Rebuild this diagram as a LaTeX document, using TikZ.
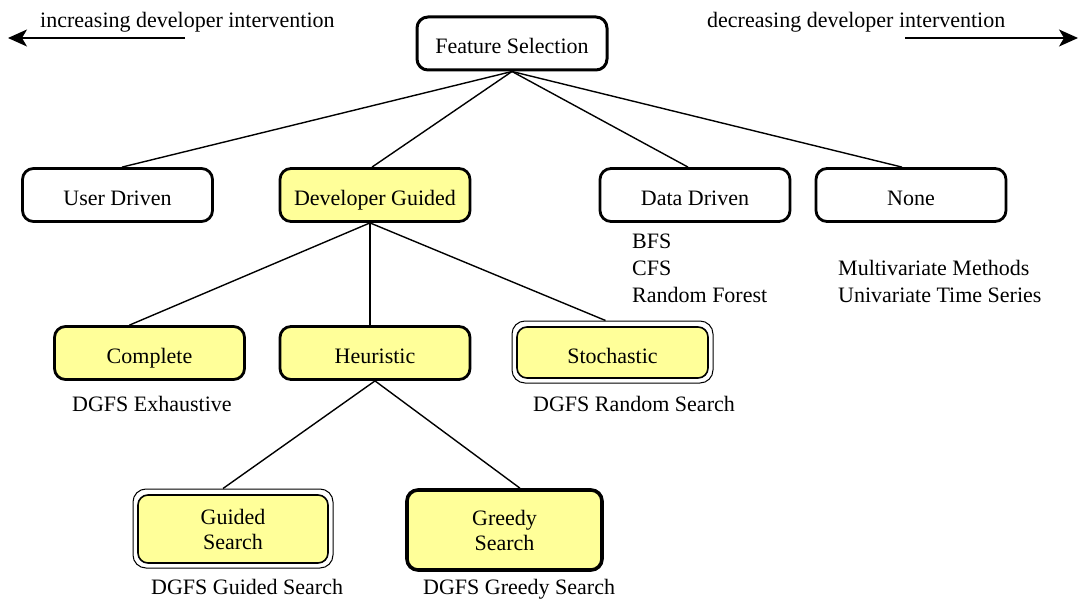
\documentclass[tikz,border=0pt]{standalone}
\usepackage{fontspec}
\setmainfont{Liberation Serif}
\usetikzlibrary{calc,arrows.meta}
\definecolor{boxyellow}{RGB}{255,255,153}
\begin{document}
\begin{tikzpicture}[x=1pt,y=-1pt,
  font=\fontsize{22}{25}\selectfont,
  box/.style={draw, rounded corners=11pt, line width=2.8pt, minimum width=190pt, minimum height=53pt, align=center, inner sep=0pt},
  one/.style={text height=21pt, text depth=0pt},
  ybox/.style={box, fill=boxyellow},
  innerbox/.style={draw, fill=boxyellow, rounded corners=10pt, line width=1.6pt, align=center, inner sep=0pt},
  outerbox/.style={draw, rounded corners=13pt, line width=1pt, inner sep=0pt},
  lbl/.style={anchor=base west, inner sep=0pt},
  conn/.style={line width=1.4pt},
  arr/.style={line width=1.3pt, -{Stealth[length=19pt,width=17pt,inset=5pt]}}
]
\useasboundingbox (0,0) rectangle (1080,599);

% top
\node[box, one, line width=3pt] (fs) at (512,43.5) {Feature Selection};

% level 1
\node[box, one] (ud) at (117.5,195) {User Driven};
\node[ybox, one] (dg) at (375,195) {Developer Guided};
\node[box, one] (dd) at (695,195) {Data Driven};
\node[box, one] (none) at (911,195) {None};

% level 2
\node[ybox, one] (cp) at (149.5,353) {Complete};
\node[ybox, one] (he) at (375,353) {Heuristic};
\node[outerbox, minimum width=201pt, minimum height=62pt] (sto) at (612.5,352) {};
\node[innerbox, one, minimum width=191pt, minimum height=51pt] (st) at (612.5,352.5) {Stochastic};

% level 3
\node[outerbox, minimum width=200pt, minimum height=79pt] (guo) at (233,528.5) {};
\node[innerbox, minimum width=190pt, minimum height=68pt] (gu) at (233,529) {Guided\\Search};
\node[ybox, line width=3.6pt, minimum width=195pt, minimum height=80pt] (gr) at (504.5,530) {Greedy\\Search};

% labels
\node[lbl] (bfs) at (632,248) {BFS};
\node[lbl] (cfs) at (632,275) {CFS};
\node[lbl] (rf) at (632,302) {Random Forest};
\node[lbl] (mm) at (838,275) {Multivariate Methods};
\node[lbl] (uts) at (838,302) {Univariate Time Series};
\node[lbl] (dex) at (72,411) {DGFS Exhaustive};
\node[lbl] (drs) at (533,411) {DGFS Random Search};
\node[lbl] (dgs) at (151,594) {DGFS Guided Search};
\node[lbl] (dgr) at (423,594) {DGFS Greedy Search};

% direction arrows
\node[lbl] (inc) at (40,28) {increasing developer intervention};
\node[lbl] (dec) at (707,28) {decreasing developer intervention};
\coordinate (la) at (185,38);
\coordinate (lb) at (8,38);
\coordinate (ra) at (905,38);
\coordinate (rb) at (1078,38);
\draw[arr] (la) -- (lb);
\draw[arr] (ra) -- (rb);

% connectors
\draw[conn] (fs.south) -- ($(ud.north)+(4.5,0)$);
\draw[conn] (fs.south) -- ($(dg.north)+(-3,0)$);
\draw[conn] (fs.south) -- ($(dd.north)+(-7,0)$);
\draw[conn] (fs.south) -- ($(none.north)+(-9,0)$);
\draw[conn] ($(dg.south)+(-5,0)$) -- ($(cp.north)+(-20,0)$);
\draw[conn] ($(dg.south)+(-5,0)$) -- ($(he.north)+(-5,0)$);
\draw[conn] ($(dg.south)+(-5,0)$) -- ($(sto.north)+(-7,0)$);
\draw[conn] (he.south) -- ($(guo.north)+(-10,0)$);
\draw[conn] (he.south) -- ($(gr.north)+(15.5,0)$);
\end{tikzpicture}
\end{document}
